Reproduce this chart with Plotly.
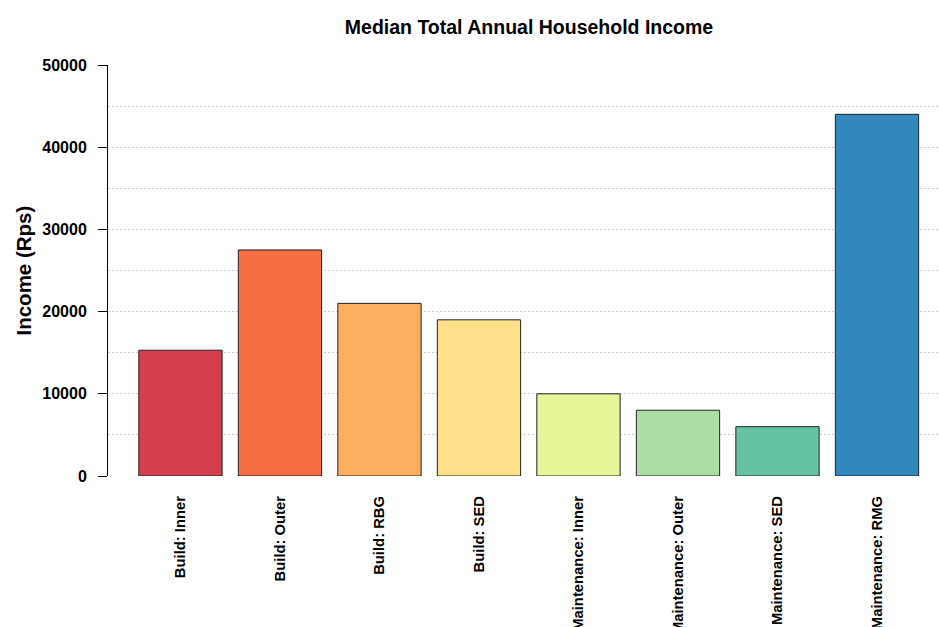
import plotly.graph_objects as go

categories = ["Build: Inner", "Build: Outer", "Build: RBG", "Build: SED",
              "Maintenance: Inner", "Maintenance: Outer", "Maintenance: SED", "Maintenance: RMG"]
income = [15300, 27500, 21000, 19000, 10000, 8000, 6000, 44000]
colors = ["#D53E4F", "#F46D43", "#FDAE61", "#FEE08B",
          "#E6F598", "#ABDDA4", "#66C2A5", "#3288BD"]
y_ticks = [0, 10000, 20000, 30000, 40000, 50000]

W, H = 939, 627
L, R, T, B = 108, 0, 65, 151

fig = go.Figure(go.Bar(
    x=list(range(len(categories))),
    y=income,
    marker=dict(color=colors, line=dict(color="#222222", width=1)),
    width=0.837,
))

fig.update_layout(
    width=W, height=H,
    margin=dict(l=L, r=R, t=T, b=B, autoexpand=False),
    paper_bgcolor="white", plot_bgcolor="white",
    showlegend=False,
    font=dict(family="Liberation Sans, Arial, sans-serif", color="black"),
    title=dict(text="<b>Median Total Annual Household Income</b>",
               font=dict(size=19.5, color="black"),
               xref="container", x=529 / W, xanchor="center",
               yref="container", y=1 - 27 / H, yanchor="middle"),
)

fig.update_xaxes(
    range=[-0.728, 7.623],
    tickmode="array", tickvals=list(range(len(categories))),
    ticktext=["<b>%s</b>" % c for c in categories],
    tickangle=-90, tickfont=dict(size=14.8, color="black"),
    ticks="", ticklabelstandoff=16,
    showline=False, showgrid=False, zeroline=False, automargin=False,
)

grid_style = dict(gridcolor="#cccccc", griddash="2px,2px", gridwidth=1)
fig.update_yaxes(
    range=[0, 50000],
    tickmode="array", tickvals=y_ticks,
    ticktext=["<b>%d</b>" % v for v in y_ticks],
    tickfont=dict(size=16, color="black"),
    ticks="outside", ticklen=9, tickcolor="black", tickwidth=1,
    ticklabelstandoff=8,
    showline=True, linecolor="black", linewidth=1,
    showgrid=True, **grid_style,
    minor=dict(dtick=5000, showgrid=True, ticks="", **grid_style),
    zeroline=False, automargin=False,
)

fig.add_annotation(
    text="<b>Income (Rps)</b>", textangle=-90,
    xref="paper", yref="paper", x=0, y=0.5,
    xanchor="center", yanchor="middle", xshift=-(L - 23),
    showarrow=False, font=dict(size=20.5, color="black"),
)

fig.write_html("out.html", config={"displayModeBar": False},
               post_script="document.body.style.margin='0';document.body.style.overflow='hidden';")
